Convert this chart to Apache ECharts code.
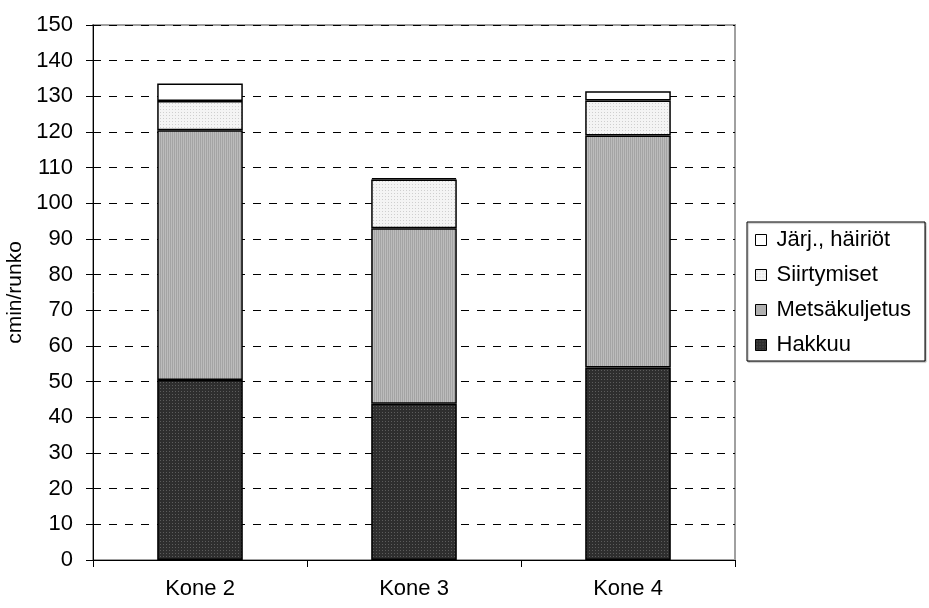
<!DOCTYPE html>
<html>
<head>
<meta charset="utf-8">
<script src="https://cdn.jsdelivr.net/npm/echarts@6/dist/echarts.min.js"></script>
<style>
html, body { margin: 0; padding: 0; background: #fff; }
#chart { width: 929px; height: 608px; }
</style>
</head>
<body>
<div id="chart"></div>
<script>
// Time per stem (cmin/runko) for each machine, split by work phase
const categories = ['Kone 2', 'Kone 3', 'Kone 4'];
const hakkuu = [50.5, 43.8, 54.0];
const metsakuljetus = [70.0, 49.2, 65.0];
const siirtymiset = [8.2, 13.7, 9.8];
const jarjHairiot = [4.9, 0.4, 2.6];
const yTicks = { min: 0, max: 150, interval: 10 };

// Small tiled canvases giving each phase its print-style texture
function makePattern(size, draw) {
  const c = document.createElement('canvas');
  c.width = size; c.height = size;
  const g = c.getContext('2d');
  draw(g);
  return { image: c, repeat: 'repeat' };
}
const darkDots = makePattern(3, g => {
  g.fillStyle = '#2e2e2e'; g.fillRect(0, 0, 3, 3);
  g.fillStyle = '#5c5c5c'; g.fillRect(1, 1, 1, 1);
});
const greyStripes = makePattern(2, g => {
  g.fillStyle = '#bcbcbc'; g.fillRect(0, 0, 2, 2);
  g.fillStyle = '#a4a4a4'; g.fillRect(0, 0, 1, 2);
});
const lightDots = makePattern(3, g => {
  g.fillStyle = '#f4f4f4'; g.fillRect(0, 0, 3, 3);
  g.fillStyle = '#cfcfcf'; g.fillRect(1, 1, 1, 1);
});

const font = 'Liberation Sans, Arial, sans-serif';
const chart = echarts.init(document.getElementById('chart'), null, { renderer: 'canvas' });

function barSeries(name, data, fill) {
  return {
    name: name,
    type: 'bar',
    stack: 'total',
    data: data,
    barWidth: '40%',
    itemStyle: { color: fill, borderColor: '#000', borderWidth: 1.5 }
  };
}

chart.setOption({
  animation: false,
  backgroundColor: '#fff',
  grid: {
    left: 93, right: 194, top: 25, bottom: 48,
    containLabel: false,
    outerBoundsMode: 'none',
    show: true, borderColor: '#a0a0a0', borderWidth: 2
  },
  legend: {
    data: ['Järj., häiriöt', 'Siirtymiset', 'Metsäkuljetus', 'Hakkuu'],
    orient: 'vertical',
    left: 747, top: 222,
    padding: [7, 14, 5, 8],
    itemGap: 13,
    itemWidth: 11, itemHeight: 11,
    icon: 'rect',
    itemStyle: { borderColor: '#000', borderWidth: 1 },
    borderColor: '#000', borderWidth: 1,
    shadowColor: 'rgba(0,0,0,0.35)', shadowOffsetX: 1, shadowOffsetY: 1, shadowBlur: 1,
    backgroundColor: '#fff',
    textStyle: { fontFamily: font, fontSize: 22, color: '#000', lineHeight: 22, padding: [0, 0, 0, 5] }
  },
  xAxis: {
    type: 'category',
    data: categories,
    axisLine: { lineStyle: { color: '#000', width: 1 } },
    axisTick: { show: true, inside: false, length: 7, lineStyle: { color: '#000' } },
    axisLabel: { fontFamily: font, fontSize: 22, color: '#000', margin: 18 },
    splitLine: { show: false }
  },
  yAxis: {
    type: 'value',
    min: yTicks.min, max: yTicks.max, interval: yTicks.interval,
    name: 'cmin/runko',
    nameLocation: 'middle',
    nameGap: 65,
    nameRotate: 90,
    nameTextStyle: { fontFamily: font, fontSize: 21, color: '#000' },
    axisLine: { show: true, lineStyle: { color: '#000', width: 1 } },
    axisTick: { show: true, inside: false, length: 7, lineStyle: { color: '#000' } },
    axisLabel: { fontFamily: font, fontSize: 22, color: '#000', margin: 20 },
    splitLine: { show: true, lineStyle: { color: '#000', type: [8, 8], width: 1 } }
  },
  series: [
    barSeries('Hakkuu', hakkuu, darkDots),
    barSeries('Metsäkuljetus', metsakuljetus, greyStripes),
    barSeries('Siirtymiset', siirtymiset, lightDots),
    barSeries('Järj., häiriöt', jarjHairiot, '#fff')
  ]
});
</script>
</body>
</html>
